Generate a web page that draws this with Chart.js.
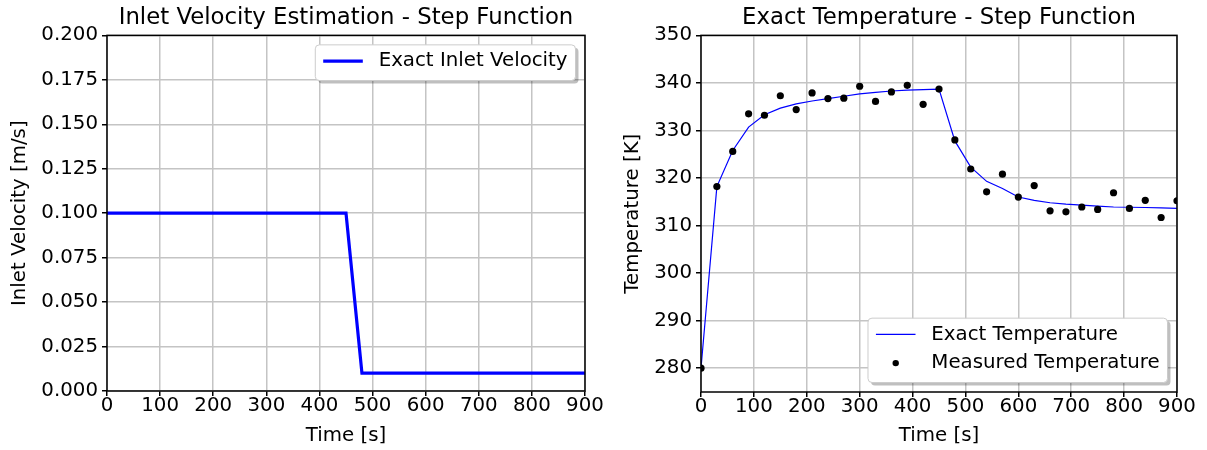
<!DOCTYPE html>
<html>
<head>
<meta charset="utf-8">
<script src="https://cdn.jsdelivr.net/npm/chart.js@4.4.0/dist/chart.umd.min.js"></script>
<style>
  body { margin: 0; background: #fff; }
  #wrap { position: relative; width: 1207px; height: 450px; overflow: hidden; }
  canvas { position: absolute; top: 0; }
  #velocityChart { left: 0; }
  #tempChart { left: 600px; }
</style>
</head>
<body>
<div id="wrap">
  <canvas id="velocityChart" width="620" height="450"></canvas>
  <canvas id="tempChart" width="607" height="450"></canvas>
</div>
<script>
// inlet velocity step (breakpoints)
var velTime = [0, 450, 480, 900];
var velValue = [0.1, 0.1, 0.01, 0.01];

// temperature samples every 30 s
var tempTime = [0, 30, 60, 90, 120, 150, 180, 210, 240, 270, 300, 330, 360, 390, 420, 450,
  480, 510, 540, 570, 600, 630, 660, 690, 720, 750, 780, 810, 840, 870, 900];
var exactTemp = [280, 318.2, 325.8, 330.7, 333.3, 334.7, 335.6, 336.2, 336.7, 337.2, 337.7,
  338.0, 338.3, 338.5, 338.6, 338.7, 327.8, 322.3, 319.3, 317.8, 316.0, 315.3, 314.8,
  314.5, 314.3, 314.1, 313.9, 313.85, 313.8, 313.7, 313.6];
var measuredTemp = [280, 318.2, 325.6, 333.5, 333.2, 337.3, 334.4, 337.9, 336.7, 336.8, 339.3,
  336.1, 338.1, 339.5, 335.5, 338.7, 328.0, 321.9, 317.1, 320.8, 316.0, 318.4, 313.1,
  312.9, 313.9, 313.4, 316.9, 313.6, 315.3, 311.7, 315.2];

// axis ticks
var timeTicks = [0, 100, 200, 300, 400, 500, 600, 700, 800, 900];
var velTicks = [0, 0.025, 0.05, 0.075, 0.1, 0.125, 0.15, 0.175, 0.2];
var tempTicks = [280, 290, 300, 310, 320, 330, 340, 350];

var FONT = "'DejaVu Sans', sans-serif";
var FS = 19.8;
Chart.defaults.font.family = FONT;
Chart.defaults.color = "#000";

function toPoints(xs, ys) {
  return xs.map(function (x, i) {
    return { x: x, y: ys[i] };
  });
}

// axes frame + matplotlib-like legend drawn inside the plot area
var frameAndLegend = {
  id: "frameAndLegend",
  afterDatasetsDraw: function (chart, args, opts) {
    var a = chart.chartArea;
    var ctx = chart.ctx;
    ctx.save();
    ctx.strokeStyle = "#000";
    ctx.lineWidth = 1.5;
    ctx.strokeRect(a.left, a.top, a.right - a.left, a.bottom - a.top);

    var fs = FS;
    var pad = 0.4 * fs, handle = 2 * fs, gap = 0.8 * fs, spacing = 0.45 * fs, rowH = fs;
    var axPad = 0.48 * fs;
    ctx.font = fs + "px " + FONT;
    var items = chart.data.datasets;
    var textW = 0;
    items.forEach(function (d) {
      textW = Math.max(textW, ctx.measureText(d.label).width);
    });
    var w = 2 * pad + handle + gap + textW;
    var h = 2 * pad + items.length * rowH + (items.length - 1) * spacing;
    var x = a.right - axPad - w;
    var y = opts.corner === "upper" ? a.top + axPad : a.bottom - axPad - h;

    ctx.fillStyle = "rgba(0,0,0,0.25)";
    ctx.beginPath();
    ctx.roundRect(x + 3, y + 3, w, h, 4);
    ctx.fill();
    ctx.fillStyle = "#fff";
    ctx.strokeStyle = "#cccccc";
    ctx.lineWidth = 1;
    ctx.beginPath();
    ctx.roundRect(x, y, w, h, 4);
    ctx.fill();
    ctx.stroke();

    items.forEach(function (d, i) {
      var cy = y + pad + rowH * 0.42 + i * (rowH + spacing);
      if (d.showLine === false) {
        ctx.fillStyle = d.backgroundColor;
        ctx.beginPath();
        ctx.arc(x + pad + handle / 2, cy, 3.2, 0, Math.PI * 2);
        ctx.fill();
      } else {
        ctx.strokeStyle = d.borderColor;
        ctx.lineWidth = d.borderWidth;
        ctx.beginPath();
        ctx.moveTo(x + pad, cy);
        ctx.lineTo(x + pad + handle, cy);
        ctx.stroke();
      }
      ctx.fillStyle = "#000";
      ctx.textBaseline = "middle";
      ctx.textAlign = "left";
      ctx.fillText(d.label, x + pad + handle + gap, cy);
    });
    ctx.restore();
  },
};

var gridStyle = {
  color: "#c4c4c4",
  lineWidth: 1.5,
  tickColor: "#000",
  tickLength: 5,
  tickWidth: 1.5,
};

// build a config for one panel
function panelConfig(p) {
  return {
    type: "line",
    data: { datasets: p.datasets },
    options: {
      responsive: false,
      animation: false,
      layout: { padding: { left: 0, right: p.padRight, top: 0, bottom: 0 } },
      plugins: {
        legend: { display: false },
        tooltip: { enabled: false },
        title: {
          display: true,
          text: p.title,
          fullSize: false,
          color: "#000",
          font: { size: 22.8, weight: "normal" },
          padding: { top: 4, bottom: 4 },
        },
        frameAndLegend: { corner: p.legendCorner },
      },
      scales: {
        x: {
          type: "linear",
          min: 0,
          max: 900,
          afterBuildTicks: function (s) {
            s.ticks = timeTicks.map(function (v) { return { value: v }; });
          },
          afterFit: function (s) { s.height = p.xHeight; },
          grid: gridStyle,
          border: { display: false },
          ticks: {
            font: { size: FS, lineHeight: 1 },
            color: "#000",
            padding: 0,
            maxRotation: 0,
            autoSkip: false,
            callback: function (v) { return String(v); },
          },
          title: {
            display: true,
            text: "Time [s]",
            color: "#000",
            font: { size: FS },
            padding: { top: 0, bottom: 2.2 },
          },
        },
        y: {
          type: "linear",
          min: p.yMin,
          max: p.yMax,
          afterBuildTicks: function (s) {
            s.ticks = p.yTicks.map(function (v) { return { value: v }; });
          },
          afterFit: function (s) { s.width = p.yWidth; },
          grid: gridStyle,
          border: { display: false },
          ticks: {
            font: { size: FS, lineHeight: 1 },
            color: "#000",
            padding: 4,
            autoSkip: false,
            callback: p.yFormat,
          },
          title: {
            display: true,
            text: p.yTitle,
            color: "#000",
            font: { size: FS },
            padding: { top: p.yTitlePad, bottom: 0 },
          },
        },
      },
    },
    plugins: [frameAndLegend],
  };
}

new Chart(
  document.getElementById("velocityChart"),
  panelConfig({
    title: "Inlet Velocity Estimation - Step Function",
    padRight: 35,
    xHeight: 59,
    yWidth: 107,
    yMin: 0,
    yMax: 0.2,
    yTicks: velTicks,
    yFormat: function (v) { return v.toFixed(3); },
    yTitle: "Inlet Velocity [m/s]",
    yTitlePad: 8.2,
    legendCorner: "upper",
    datasets: [
      {
        label: "Exact Inlet Velocity",
        data: toPoints(velTime, velValue),
        borderColor: "#0000ff",
        backgroundColor: "#0000ff",
        borderWidth: 3.2,
        pointRadius: 0,
        tension: 0,
      },
    ],
  })
);

new Chart(
  document.getElementById("tempChart"),
  panelConfig({
    title: "Exact Temperature - Step Function",
    padRight: 30,
    xHeight: 58,
    yWidth: 101,
    yMin: 275,
    yMax: 350,
    yTicks: tempTicks,
    yFormat: function (v) { return String(v); },
    yTitle: "Temperature [K]",
    yTitlePad: 21.2,
    legendCorner: "lower",
    datasets: [
      {
        label: "Exact Temperature",
        data: toPoints(tempTime, exactTemp),
        borderColor: "#0000ff",
        backgroundColor: "#0000ff",
        borderWidth: 1.2,
        pointRadius: 0,
        tension: 0,
        order: 1,
      },
      {
        label: "Measured Temperature",
        data: toPoints(tempTime, measuredTemp),
        showLine: false,
        backgroundColor: "#000",
        borderColor: "#000",
        borderWidth: 0,
        pointRadius: 3.6,
        order: 0,
      },
    ],
  })
);
</script>
</body>
</html>
